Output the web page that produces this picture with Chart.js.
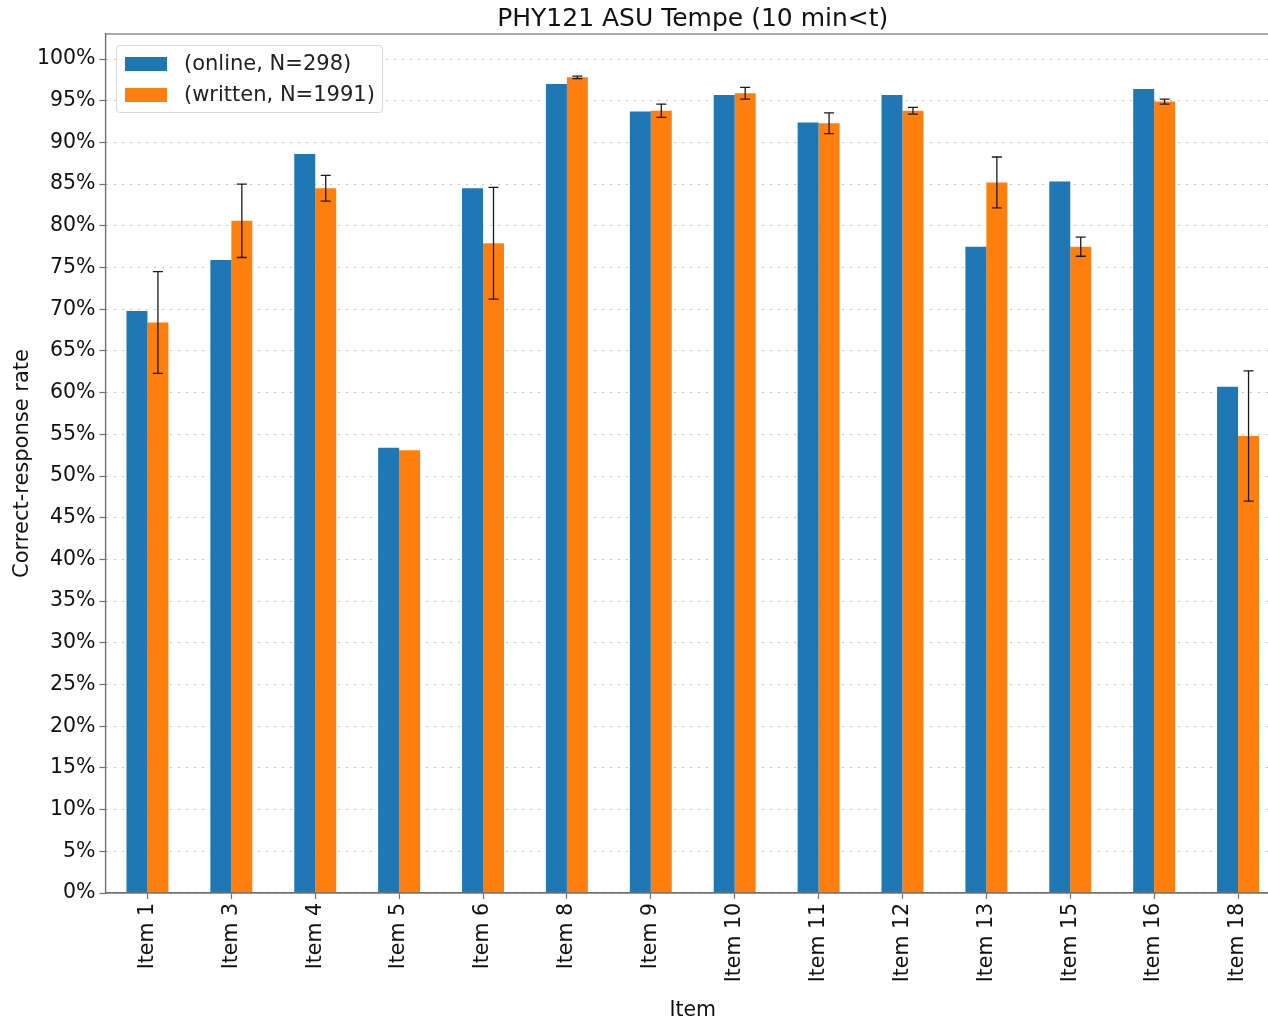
<!DOCTYPE html>
<html>
<head>
<meta charset="utf-8">
<script src="https://cdn.jsdelivr.net/npm/chart.js@4/dist/chart.umd.min.js"></script>
<style>
  html, body { margin: 0; padding: 0; background: #fff; overflow: hidden; }
  #wrap { position: relative; width: 1268px; height: 1023px; overflow: hidden; }
  #legend {
    position: absolute; left: 116px; top: 45px; width: 265px; height: 66px;
    border: 1px solid #d8d8d8; border-radius: 4px; background: rgba(255,255,255,0.85);
    font-family: "DejaVu Sans", sans-serif; font-size: 21px; color: #222;
  }
  .row { position: absolute; left: 8px; height: 20px; line-height: 20px; }
  .patch { position: absolute; left: 0; top: 3px; width: 42px; height: 14px; }
  .lbl { position: absolute; left: 59px; top: -1px; white-space: nowrap; }
</style>
</head>
<body>
<div id="wrap">
  <canvas id="chart" width="1290" height="1023"></canvas>
  <div id="legend">
    <div class="row" style="top:8px"><span class="patch" style="background:#1f77b4"></span><span class="lbl">(online, N=298)</span></div>
    <div class="row" style="top:39px"><span class="patch" style="background:#ff7f0e"></span><span class="lbl">(written, N=1991)</span></div>
  </div>
</div>
<script>
const items = ["Item 1", "Item 3", "Item 4", "Item 5", "Item 6", "Item 8", "Item 9",
    "Item 10", "Item 11", "Item 12", "Item 13", "Item 15", "Item 16", "Item 18"];

const onlineRate = [69.8, 75.9, 88.6, 53.4, 84.5, 97.0, 93.7, 95.7, 92.4, 95.7, 77.5, 85.3, 96.4, 60.7];
const writtenRate = [68.4, 80.6, 84.5, 53.1, 77.9, 97.8, 93.8, 95.9, 92.3, 93.8, 85.2, 77.5, 94.9, 54.8];
const writtenErr = [6.1, 4.4, 1.55, 0, 6.7, 0.15, 0.8, 0.7, 1.25, 0.4, 3.05, 1.15, 0.3, 7.8];

const font = "DejaVu Sans";

/* error bars on the written series */
const errorBars = {
    id: "errorBars",
    afterDatasetsDraw(chart) {
        const meta = chart.getDatasetMeta(1);
        const y = chart.scales.y;
        const ctx = chart.ctx;
        ctx.save();
        ctx.strokeStyle = "#1a1a1a";
        ctx.lineWidth = 1.3;
        meta.data.forEach((bar, i) => {
            const e = writtenErr[i];
            if (!e) return;
            const top = y.getPixelForValue(writtenRate[i] + e);
            const bot = y.getPixelForValue(writtenRate[i] - e);
            ctx.beginPath();
            ctx.moveTo(bar.x, top);
            ctx.lineTo(bar.x, bot);
            ctx.moveTo(bar.x - 5, top);
            ctx.lineTo(bar.x + 5, top);
            ctx.moveTo(bar.x - 5, bot);
            ctx.lineTo(bar.x + 5, bot);
            ctx.stroke();
        });
        ctx.restore();
    }
};

/* box around the plot */
const frame = {
    id: "frame",
    afterDraw(chart) {
        const a = chart.chartArea;
        const ctx = chart.ctx;
        ctx.save();
        ctx.setLineDash([]);
        ctx.strokeStyle = "#707070";
        ctx.lineWidth = 1.2;
        ctx.strokeRect(a.left, a.top, a.right - a.left, a.bottom - a.top);
        ctx.restore();
    }
};

new Chart(document.querySelector("#chart"), {
    type: "bar",
    data: {
        labels: items,
        datasets: [
            {
                label: "(online, N=298)",
                data: onlineRate,
                backgroundColor: "#1f77b4",
                barPercentage: 1,
                categoryPercentage: 0.5
            },
            {
                label: "(written, N=1991)",
                data: writtenRate,
                backgroundColor: "#ff7f0e",
                barPercentage: 1,
                categoryPercentage: 0.5
            }
        ]
    },
    options: {
        responsive: false,
        animation: false,
        devicePixelRatio: 1,
        layout: { padding: { top: 0, right: 10, bottom: 0, left: 0 } },
        plugins: {
            legend: { display: false },
            tooltip: { enabled: false },
            title: {
                display: true,
                text: "PHY121 ASU Tempe (10 min<t)",
                fullSize: false,
                color: "#111",
                font: { family: font, size: 25, weight: "normal", lineHeight: 1.16 },
                padding: { top: 5, bottom: 0 }
            }
        },
        scales: {
            x: {
                offset: true,
                grid: {
                    offset: false,
                    drawOnChartArea: false,
                    drawTicks: true,
                    tickLength: 6,
                    tickColor: "#707070",
                    tickWidth: 1.2
                },
                border: { color: "#707070", width: 1.2 },
                ticks: {
                    color: "#111",
                    font: { family: font, size: 20.5 },
                    minRotation: 90,
                    maxRotation: 90,
                    padding: 4
                },
                title: {
                    display: true,
                    text: "Item",
                    color: "#111",
                    font: { family: font, size: 20.5 },
                    padding: { top: 0, bottom: 0 }
                },
                afterFit(scale) { scale.height = 130; }
            },
            y: {
                min: 0,
                max: 103,
                grid: {
                    color: "#b0b0b0",
                    lineWidth: 1,
                    tickBorderDash: [],
                    tickColor: "#707070",
                    tickLength: 6,
                    tickWidth: 1.2
                },
                border: { color: "#707070", width: 1.2, dash: [1.5, 6.5] },
                ticks: {
                    stepSize: 5,
                    includeBounds: false,
                    color: "#111",
                    font: { family: font, size: 20.5 },
                    padding: 4,
                    callback: v => v + "%"
                },
                title: {
                    display: true,
                    text: "Correct-response rate",
                    color: "#111",
                    font: { family: font, size: 21 },
                    padding: { top: 10, bottom: 0 }
                },
                afterFit(scale) { scale.width = 105.5; }
            }
        }
    },
    plugins: [errorBars, frame]
});
</script>
</body>
</html>
